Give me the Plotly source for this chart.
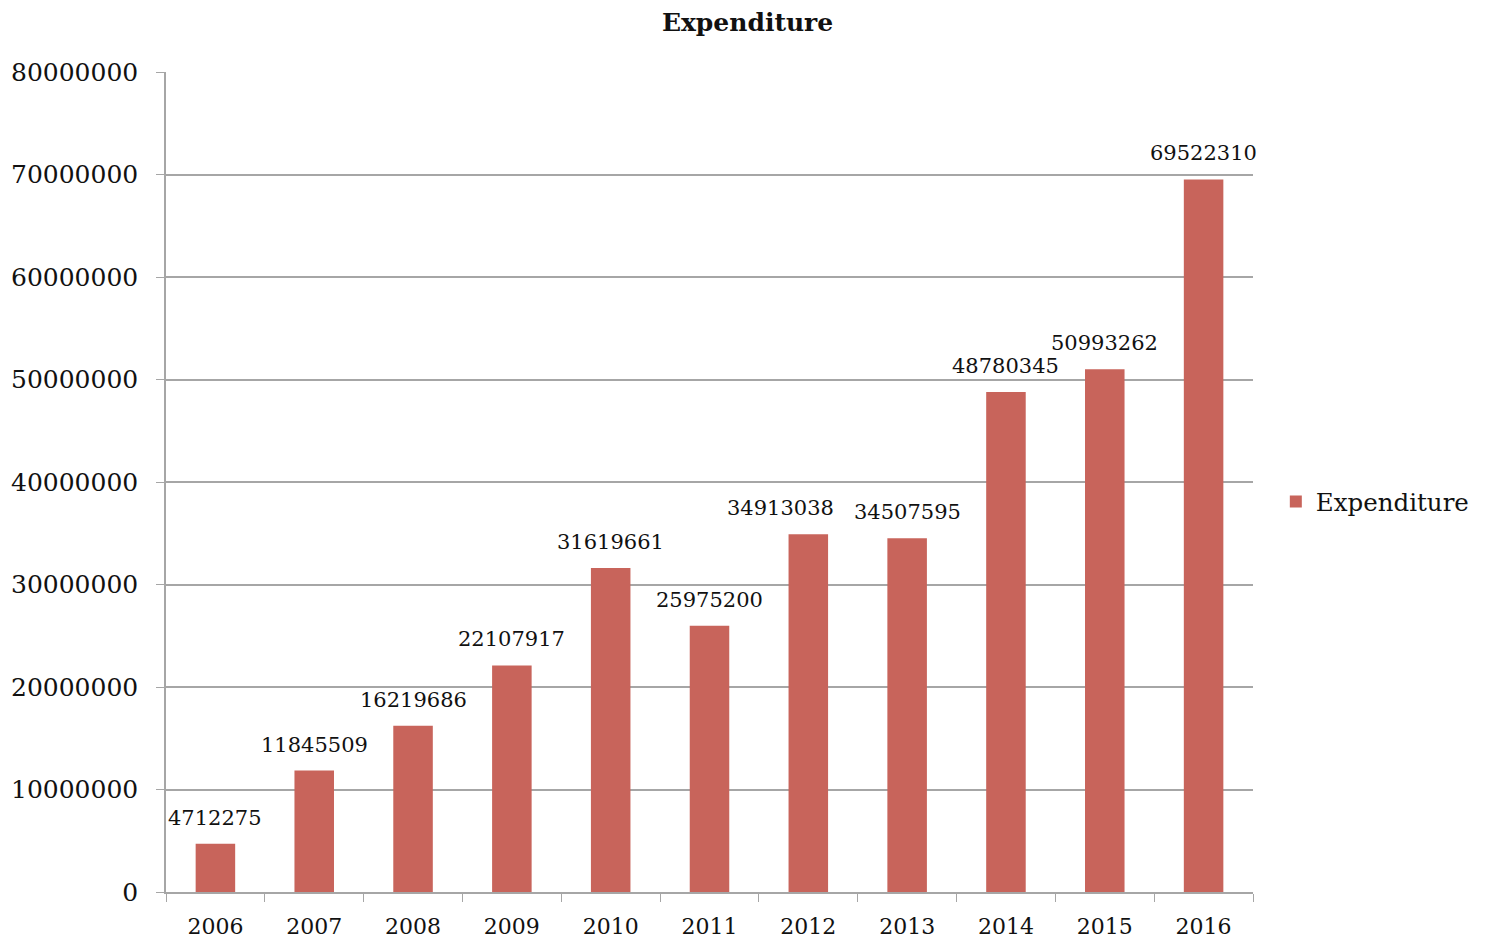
import plotly.graph_objects as go

years = ["2006", "2007", "2008", "2009", "2010", "2011", "2012", "2013", "2014", "2015", "2016"]
expenditure = [4712275, 11845509, 16219686, 22107917, 31619661, 25975200,
               34913038, 34507595, 48780345, 50993262, 69522310]
y_ticks = [0, 10000000, 20000000, 30000000, 40000000, 50000000, 60000000, 70000000, 80000000]

FONT = "DejaVu Serif"
BAR = "#C8645B"
GRID = "#A6A6A6"
TXT = "#111111"

fig = go.Figure(go.Bar(
    x=years, y=expenditure, name="Expenditure",
    marker=dict(color=BAR, line=dict(width=0)),
))

# the 2012 label is nudged left in the original to avoid touching its neighbour
label_nudge = {"2012": -28}
# category axes place annotations by category index
for i, (yr, v) in enumerate(zip(years, expenditure)):
    fig.add_annotation(x=i, y=v, text=str(v), showarrow=False,
                       yanchor="middle", xanchor="center", yshift=26,
                       xshift=label_nudge.get(yr, 0),
                       font=dict(family=FONT, size=21, color=TXT))

fig.update_layout(
    width=1491, height=941,
    paper_bgcolor="white", plot_bgcolor="white",
    margin=dict(l=158, r=246, t=64, b=57),
    bargap=0.6,
    showlegend=True,
    title=dict(text="<b>Expenditure</b>", x=0.496, xanchor="center", y=0.985, yanchor="middle",
               font=dict(family=FONT, size=25, color=TXT)),
    legend=dict(x=1.021, y=0.476, xanchor="left", yanchor="middle",
                font=dict(family=FONT, size=24.5, color=TXT), itemwidth=30),
    font=dict(family=FONT),
)
fig.update_xaxes(
    type="category", range=[-0.5, len(years) - 0.5],
    tickson="boundaries", ticks="outside", ticklen=8, tickcolor=GRID,
    showline=True, linecolor=GRID, linewidth=1.5, showgrid=False,
    ticklabelstandoff=14, tickangle=0, automargin=False,
    tickfont=dict(family=FONT, size=22, color=TXT),
)
fig.update_yaxes(
    range=[0, 80000000], tickvals=y_ticks, ticktext=[str(v) for v in y_ticks],
    ticks="outside", ticklen=8, tickcolor=GRID,
    showline=True, linecolor=GRID, linewidth=1.5,
    showgrid=True, gridcolor=GRID, gridwidth=1.5, zeroline=False,
    ticklabelstandoff=13, automargin=False,
    tickfont=dict(family=FONT, size=25, color=TXT),
)

fig.write_html("out.html")
